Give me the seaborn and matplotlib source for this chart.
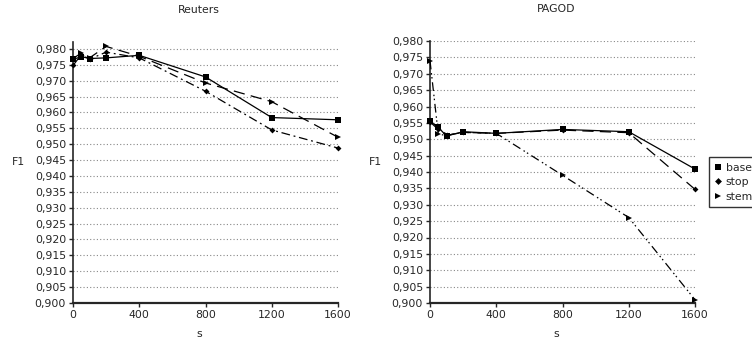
"""F1 vs s for Reuters and PAGOD (base / stop / stem)."""
import numpy as np
import pandas as pd
import matplotlib
matplotlib.use('Agg')
import matplotlib.pyplot as plt
from matplotlib.lines import Line2D
from matplotlib.ticker import FuncFormatter, MultipleLocator
import seaborn as sns

s_values = [0, 50, 100, 200, 400, 800, 1200, 1600]

reuters_base = [0.9767, 0.9776, 0.9770, 0.9772, 0.9780, 0.9712, 0.9584, 0.9577]
reuters_stop = [0.9748, 0.9782, 0.9768, 0.9790, 0.9772, 0.9667, 0.9545, 0.9488]
reuters_stem = [0.9770, 0.9787, 0.9772, 0.9808, 0.9777, 0.9693, 0.9634, 0.9522]

pagod_base = [0.9555, 0.9536, 0.9510, 0.9523, 0.9518, 0.9530, 0.9523, 0.9409]
pagod_stop = [0.9553, 0.9530, 0.9512, 0.9521, 0.9518, 0.9528, 0.9520, 0.9347]
pagod_stem = [0.9740, 0.9515, 0.9512, 0.9521, 0.9518, 0.9390, 0.9261, 0.9010]

series_names = ['base', 'stop', 'stem']
markers = {'base': 's', 'stop': 'D', 'stem': '>'}
marker_sizes = {'base': 4.5, 'stop': 3.0, 'stem': 4.0}

sns.set_style('ticks')
plt.rcParams['font.family'] = ['DejaVu Sans']
plt.rcParams['font.size'] = 7.5

fig = plt.figure(figsize=(7.52, 3.41), dpi=100)
ax1 = fig.add_axes([73 / 752, 38 / 341, 265 / 752, 261 / 341])
ax2 = fig.add_axes([430 / 752, 38 / 341, 265 / 752, 262 / 341])

panels = [
    (ax1, 'Reuters', {'base': reuters_base, 'stop': reuters_stop, 'stem': reuters_stem},
     {'base': '-', 'stop': (0, (7, 3, 1.5, 3)), 'stem': (0, (9, 5))}, 0.9822),
    (ax2, 'PAGOD', {'base': pagod_base, 'stop': pagod_stop, 'stem': pagod_stem},
     {'base': '-', 'stop': (0, (9, 5)), 'stem': (0, (7, 3, 1.2, 2, 1.2, 3))}, 0.980),
]

for ax, title, data, styles, top in panels:
    for name in series_names:
        df = pd.DataFrame({'s': s_values, 'F1': data[name]})
        sns.lineplot(data=df, x='s', y='F1', ax=ax, color='black', lw=0.9,
                     linestyle=styles[name], marker=markers[name],
                     markersize=marker_sizes[name], markeredgewidth=0,
                     clip_on=False, zorder=3)
    ax.set_xlim(0, 1600)
    ax.set_ylim(0.900, top)
    ax.xaxis.set_major_locator(MultipleLocator(400))
    ax.set_yticks(np.arange(0.900, 0.9801, 0.005))
    ax.yaxis.set_major_formatter(FuncFormatter(lambda v, p: f'{v:.3f}'.replace('.', ',')))
    for yv in np.arange(0.905, 0.9801, 0.005):
        ax.axhline(yv, color='#888888', lw=0.8, linestyle=(0, (1, 2)), zorder=1)
    sns.despine(ax=ax)
    ax.spines['left'].set_linewidth(1.2)
    ax.spines['bottom'].set_linewidth(1.6)
    ax.tick_params(axis='both', direction='out', length=3, width=1, labelsize=7.8, pad=2)
    ax.set_title(title, fontsize=7.8, x=0.475, pad=21)
    ax.set_xlabel('s', fontsize=7.8)
    ax.xaxis.set_label_coords(0.475, -0.1)
    ax.set_ylabel('F1', fontsize=7.8, rotation=0, va='center', ha='center')
    ax.yaxis.set_label_coords(-0.205, 0.54)

handles = [Line2D([], [], color='black', linestyle='none', marker=markers[n],
                  markersize=marker_sizes[n] + 0.5, markeredgewidth=0) for n in series_names]
fig.legend(handles, series_names, loc='upper left', bbox_to_anchor=(704 / 752, 1 - 152 / 341),
           frameon=True, fancybox=False, edgecolor='black', fontsize=7.8,
           handlelength=0.6, handletextpad=0.4, borderpad=0.5, labelspacing=0.4)

fig.savefig('out.png', dpi=100)
